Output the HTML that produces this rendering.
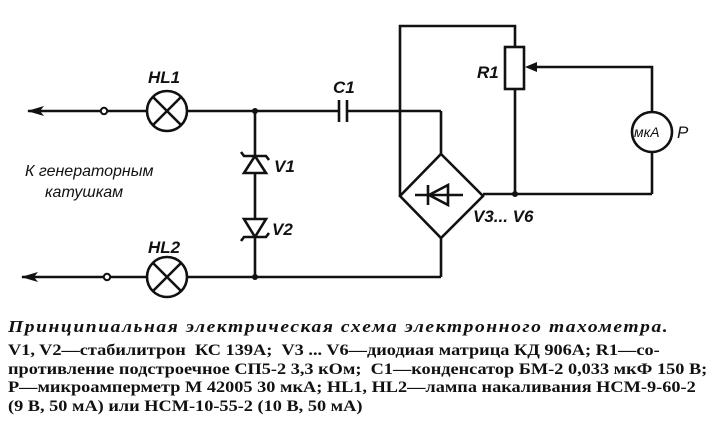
<!DOCTYPE html>
<html><head><meta charset="utf-8"><style>
html,body{margin:0;padding:0;background:#fff;}
body{width:726px;height:429px;overflow:hidden;position:relative;}
svg{position:absolute;left:0;top:0;}
.cap{position:absolute;left:8px;font-family:"Liberation Serif","Noto Serif CJK SC",serif;color:#111;white-space:nowrap;transform-origin:0 0;}
</style></head><body>
<svg width="726" height="429" viewBox="0 0 726 429" font-family="Liberation Sans, DejaVu Sans, sans-serif" font-style="italic" font-weight="bold" fill="#111">
<g stroke="#111" stroke-width="2.6" fill="none">
<line x1="28" y1="111" x2="101" y2="111"/>
<line x1="107" y1="111" x2="146" y2="111"/>
<line x1="188" y1="111" x2="339" y2="111"/>
<line x1="348" y1="111" x2="441" y2="111"/>
<line x1="441" y1="111" x2="441" y2="154"/>
<line x1="339" y1="100" x2="339" y2="122"/>
<line x1="347" y1="100" x2="347" y2="122"/>
<circle cx="167" cy="111" r="20"/>
<line x1="153" y1="97" x2="181" y2="125"/>
<line x1="181" y1="97" x2="153" y2="125"/>
<circle cx="104" cy="111" r="3.2" stroke-width="2"/>
<line x1="22" y1="277" x2="104" y2="277"/>
<line x1="110" y1="277" x2="146" y2="277"/>
<line x1="188" y1="277" x2="441" y2="277"/>
<line x1="441" y1="277" x2="441" y2="238"/>
<circle cx="107" cy="277" r="3.2" stroke-width="2"/>
<circle cx="167" cy="277" r="20"/>
<line x1="153" y1="263" x2="181" y2="291"/>
<line x1="181" y1="263" x2="153" y2="291"/>
<line x1="255" y1="111" x2="255" y2="277"/>
<polygon points="441,154 483,196 441,238 400,196"/>
<line x1="415" y1="195" x2="463" y2="195"/>
<line x1="428" y1="185" x2="428" y2="205"/>
<polyline points="400,196 400,26 515,26 515,47"/>
<rect x="505" y="47" width="19" height="42"/>
<line x1="515" y1="89" x2="515" y2="194"/>
<line x1="483" y1="194" x2="652" y2="194"/>
<polyline points="652,194 652,153"/>
<circle cx="652" cy="132" r="20"/>
<polyline points="652,112 652,67 534,67"/>
</g>
<polygon points="27,111 44,106 40,111 44,116"/>
<polygon points="21,277 38,272 34,277 38,282"/>
<polygon points="525,67 537,62 537,72"/>
<circle cx="255" cy="111" r="3"/>
<circle cx="255" cy="277" r="3"/>
<circle cx="515" cy="194" r="3"/>
<polygon points="429,195 448,185 448,205" fill="none" stroke="#111" stroke-width="2.6"/>
<polygon points="255,156 244,173 266,173" fill="#fff" stroke="#111" stroke-width="2.6"/>
<polyline points="241,152 244,156 266,156 269,160" fill="none" stroke="#111" stroke-width="2.6"/>
<polygon points="255,237 244,219 266,219" fill="#fff" stroke="#111" stroke-width="2.6"/>
<polyline points="241,241 244,237 266,237 269,233" fill="none" stroke="#111" stroke-width="2.6"/>
<text x="148" y="83" font-size="17">HL1</text>
<text x="148" y="253" font-size="17">HL2</text>
<text x="333" y="93" font-size="17">C1</text>
<text x="274" y="172" font-size="17">V1</text>
<text x="272" y="235" font-size="17">V2</text>
<text x="477" y="78" font-size="17">R1</text>
<text x="473" y="222" font-size="17">V3... V6</text>
<text x="634" y="137" font-size="14" font-weight="normal">мкА</text>
<text x="677" y="138" font-size="17" font-weight="normal">P</text>
<text x="25" y="176" font-size="16" font-weight="normal">К генераторным</text>
<text x="45" y="197" font-size="16" font-weight="normal">катушкам</text>
</svg>
<div class="cap" style="top:317px;font-size:17px;font-style:italic;font-weight:bold;letter-spacing:1.35px;transform:scaleX(1.15);">Принципиальная электрическая схема электронного тахометра.</div>
<div class="cap" style="top:342px;font-size:15.5px;line-height:18.6px;font-weight:bold;transform:scaleX(1.18);">V1, V2—стабилитрон &nbsp;КС 139А; &nbsp;V3 ... V6—диодиая матрица КД 906А; R1—со-<br>противление подстроечное СП5-2 3,3 кОм; &nbsp;C1—конденсатор БМ-2 0,033 мкФ 150 В;<br>Р—микроамперметр М 42005 30 мкА; HL1, HL2—лампа накаливания НСМ-9-60-2<br>(9 В, 50 мА) или НСМ-10-55-2 (10 В, 50 мА)</div>
</body></html>
